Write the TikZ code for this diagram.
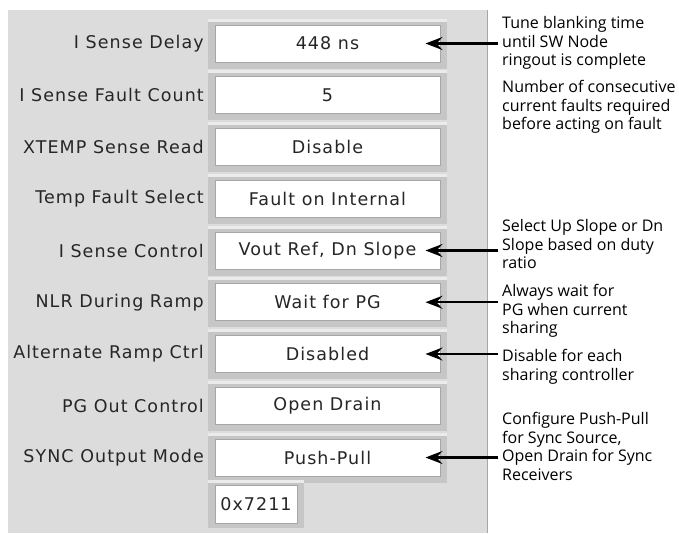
\documentclass[tikz,border=0pt]{standalone}
\usepackage{fontspec}
\newfontfamily\fieldfont[LetterSpace=6]{DejaVu Sans}
\newfontfamily\notefont{Open Sans}
\usetikzlibrary{arrows.meta, positioning, calc}
\definecolor{panelgray}{HTML}{DCDCDC}
\definecolor{bevelgray}{HTML}{C6C6C6}

\begin{document}
\begin{tikzpicture}[x=1pt, y=-1pt,
    lbl/.style={anchor=east, inner sep=0pt, text=black!85, font=\fieldfont\fontsize{17.5}{19}\selectfont},
    field/.style={fill=white, draw=black!35, line width=1pt, minimum width=225pt, minimum height=37pt,
      inner sep=0pt, text=black!85, font=\fieldfont\fontsize{17.5}{19}\selectfont},
    note/.style={anchor=north west, align=left, inner xsep=4pt, inner ysep=0pt,
      font=\notefont\fontsize{16}{18.7}\selectfont},
    pointer/.style={line width=2.4pt, -{Stealth[length=17pt, width=13pt, inset=6pt]}, shorten >=-1pt}]
  \useasboundingbox (0,0) rectangle (679,533);
  % Panel
  \fill[panelgray] (8,10) rectangle (487,533);
  \draw[black!35] (487,10) -- (487,533);

  % Settings rows
  \foreach \lab/\val [count=\i from 0] in {I Sense Delay/448 ns, I Sense Fault Count/5,
      XTEMP Sense Read/Disable, Temp Fault Select/Fault on Internal,
      I Sense Control/{Vout Ref, Dn Slope}, NLR During Ramp/Wait for PG,
      Alternate Ramp Ctrl/Disabled, PG Out Control/Open Drain,
      SYNC Output Mode/Push-Pull} {
    \pgfmathsetmacro\yy{43.5+51.75*\i}
    \fill[bevelgray] (208,\yy-25) rectangle (447,\yy+25);
    \fill[black!8] (208,\yy-25) rectangle (447,\yy-22);
    \node[field] (box\i) at (327.5,\yy) {\val};
    \node[lbl] (lab\i) at (204,\yy) {\lab};
  }
  % Register value
  \fill[bevelgray] (208,480) rectangle (304,528);
  \fill[black!8] (208,480) rectangle (304,483);
  \node[field, minimum width=82pt, minimum height=38pt] (reg) at (256,504) {0x7211};

  % Notes
  \node[note] (note0) at (498,16) {Tune blanking time\\until SW Node\\ringout is complete};
  \node[note] (note1) at (498,80) {Number of consecutive\\current faults required\\before acting on fault};
  \node[note] (note4) at (498,219) {Select Up Slope or Dn\\Slope based on duty\\ratio};
  \node[note] (note5) at (498,284) {Always wait for\\PG when current\\sharing};
  \node[note] (note6) at (498,349) {Disable for each\\sharing controller};
  \node[note] (note8) at (498,412) {Configure Push-Pull\\for Sync Source,\\Open Drain for Sync\\Receivers};

  % Pointers
  \foreach \n in {0,4,5,6,8}
    \draw[pointer] (box\n.east -| note\n.west) -- ([xshift=-14pt]box\n.east);
\end{tikzpicture}
\end{document}
